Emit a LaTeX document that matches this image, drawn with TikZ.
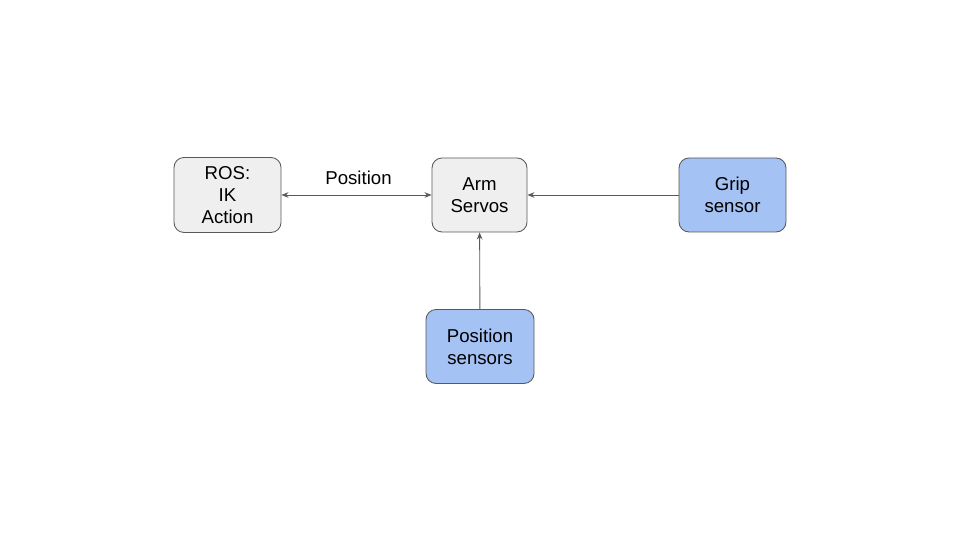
\documentclass[tikz,border=0pt]{standalone}
\usepackage{fontspec}
\setmainfont{Liberation Sans}
\usetikzlibrary{arrows.meta}
\definecolor{boxgrey}{HTML}{EFEFEF}
\definecolor{boxblue}{HTML}{A4C2F4}
\definecolor{linegrey}{HTML}{595959}

\begin{document}
\begin{tikzpicture}[
    box/.style={draw=linegrey, line width=0.5pt, rounded corners=0.2cm, align=center, inner sep=0pt,
      font=\fontsize{10.6}{12.5}\selectfont},
    link/.style={draw=linegrey, line width=0.5pt, -{Stealth[length=4pt,width=3.2pt]}},
    duallink/.style={link, {Stealth[length=4pt,width=3.2pt]}-{Stealth[length=4pt,width=3.2pt]}}]
  \useasboundingbox (0,0) rectangle (19.2,10.8);

  \node[box, fill=boxgrey, minimum width=2.14cm, minimum height=1.5cm] (ROS) at (4.55, 6.9) {ROS:\\IK\\Action};
  \node[box, fill=boxgrey, minimum width=1.9cm, minimum height=1.48cm] (ArmServos) at (9.59, 6.9) {Arm\\Servos};
  \node[box, fill=boxblue, minimum width=2.14cm, minimum height=1.48cm] (GripSensor) at (14.65, 6.9) {Grip\\sensor};
  \node[box, fill=boxblue, minimum width=2.16cm, minimum height=1.48cm] (PositionSensors) at (9.6, 3.87) {Position\\sensors};

  \draw[duallink] (ROS) -- node[above=2.5pt, xshift=0.04cm, font=\fontsize{10.6}{12.5}\selectfont]{Position} (ArmServos);
  \draw[link] (GripSensor) -- (ArmServos);
  \draw[link] (PositionSensors) -- (ArmServos);

\end{tikzpicture}
\end{document}
